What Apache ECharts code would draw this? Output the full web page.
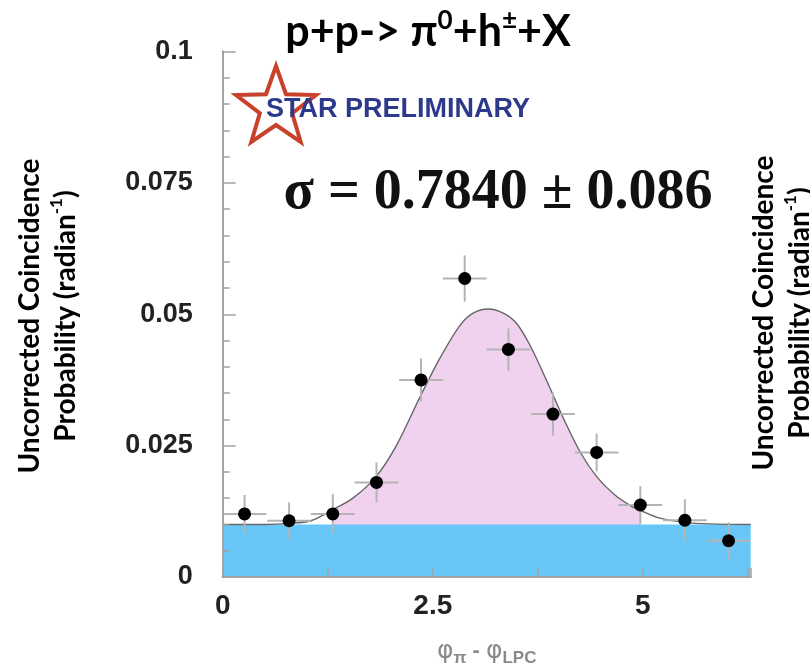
<!DOCTYPE html>
<html>
<head>
<meta charset="utf-8">
<script src="https://cdn.jsdelivr.net/npm/echarts@6/dist/echarts.min.js"></script>
<style>
  html, body { margin: 0; padding: 0; background: #fff; }
  #chart { width: 810px; height: 672px; }
</style>
</head>
<body>
<div id="chart"></div>
<script>
// Bin centres of the azimuthal difference (radian) and measured coincidence probability
const binCenters = [0.26, 0.79, 1.31, 1.83, 2.36, 2.88, 3.40, 3.93, 4.45, 4.97, 5.50, 6.02];
const probValues = [0.0120, 0.0107, 0.0120, 0.0180, 0.0375, 0.0568, 0.0433, 0.0310, 0.0237, 0.0137, 0.0108, 0.0069];
const probErrors = [0.0036, 0.0035, 0.0038, 0.0038, 0.0041, 0.0044, 0.0040, 0.0041, 0.0036, 0.0036, 0.0040, 0.0035];
const binHalfWidth = [0.26, 0.26, 0.26, 0.26, 0.26, 0.26, 0.26, 0.26, 0.26, 0.26, 0.26, 0.26];

// Gaussian-plus-constant fit curve, sampled along the axis
const fitX = [0, 0.5, 0.8, 1.05, 1.31, 1.55, 1.82, 2.06, 2.34, 2.58, 2.82, 2.98, 3.16, 3.34, 3.50, 3.66, 3.86, 4.06, 4.26, 4.46, 4.66, 4.86, 4.97, 5.2, 5.5, 5.8, 6.2832];
const fitY = [0.0100, 0.0100, 0.0102, 0.0107, 0.0128, 0.0150, 0.0190, 0.0248, 0.0340, 0.0415, 0.0478, 0.0502, 0.0510, 0.0502, 0.0482, 0.0440, 0.0372, 0.0300, 0.0236, 0.0189, 0.0157, 0.0135, 0.0127, 0.0112, 0.0104, 0.0101, 0.0100];

// Constant (uncorrelated) background level and the shaded signal window
const backgroundLevel = 0.01;
const signalWindow = [1.31, 4.97];

// Axis ranges and labelled ticks
const xRange = [0, 6.2832];
const yRange = [0, 0.1];
const xTickLabels = { 0: '0', 2.5: '2.5', 5: '5' };
const yTickLabels = { 0: '0', 0.025: '0.025', 0.05: '0.05', 0.075: '0.075', 0.1: '0.1' };

const fitPoints = fitX.map((x, i) => [x, fitY[i]]);
const signalPoints = fitPoints.filter(p => p[0] >= signalWindow[0] && p[0] <= signalWindow[1]);
const pointData = binCenters.map((x, i) => [x, probValues[i], binHalfWidth[i], probErrors[i]]);

const chart = echarts.init(document.getElementById('chart'), null, { renderer: 'canvas' });

const frameColor = '#a3a3a3';
const labelFont = 'Liberation Sans, Arial, sans-serif';
const officeFont = 'Lato, "Open Sans", sans-serif';

function fmtTick(map) {
  return function (v) {
    const key = Object.keys(map).find(k => Math.abs(parseFloat(k) - v) < 1e-9);
    return key !== undefined ? map[key] : '';
  };
}

// Five-pointed star outline for the collaboration logo
function starPoints(cx, cy, R, r) {
  const pts = [];
  for (let i = 0; i < 10; i++) {
    const ang = -Math.PI / 2 + i * Math.PI / 5;
    const rad = i % 2 === 0 ? R : r;
    pts.push([cx + rad * Math.cos(ang), cy + rad * Math.sin(ang)]);
  }
  return pts;
}

const yTitle = {
  text: '{a|Uncorrected Coincidence}\n{a|Probability (radian}{s|-1}{a|)}',
  textAlign: 'center', textVerticalAlign: 'middle',
  rich: {
    a: { fontSize: 28, fontWeight: 'bold', fontFamily: officeFont, fill: '#000', lineHeight: 36, verticalAlign: 'middle' },
    s: { fontSize: 17, fontWeight: 'bold', fontFamily: officeFont, fill: '#000', lineHeight: 36, verticalAlign: 'top' }
  }
};

const option = {
  backgroundColor: '#ffffff',
  animation: false,
  textStyle: { fontFamily: labelFont },
  grid: { left: 222.7, right: 59.3, top: 51.5, bottom: 95, show: false, outerBoundsMode: 'none', containLabel: false },
  xAxis: [{
    type: 'value',
    min: xRange[0], max: xRange[1], interval: 1.25,
    z: 10,
    axisLine: { show: true, lineStyle: { color: frameColor, width: 2 } },
    axisTick: { show: true, inside: true, length: 9, lineStyle: { color: frameColor, width: 1.5 } },
    splitLine: { show: false },
    axisLabel: {
      formatter: fmtTick(xTickLabels),
      color: '#222', fontSize: 28, fontWeight: 'bold', margin: 15, fontFamily: labelFont
    },
    name: '{phi|φ}{sub|π}{mid| - }{phi|φ}{sub|LPC}',
    nameLocation: 'middle',
    nameGap: 58,
    nameTextStyle: {
      rich: {
        phi: { fontSize: 25, color: '#8a8a8a', lineHeight: 32, verticalAlign: 'middle', fontFamily: 'DejaVu Sans' },
        mid: { fontSize: 22, color: '#8a8a8a', fontWeight: 'bold', lineHeight: 32, verticalAlign: 'middle' },
        sub: { fontSize: 17, color: '#8a8a8a', fontWeight: 'bold', lineHeight: 17, verticalAlign: 'bottom' }
      }
    }
  }, {
    type: 'value', position: 'top',
    min: xRange[0], max: xRange[1],
    z: 10,
    axisLine: { show: true, lineStyle: { color: frameColor, width: 2 } },
    axisTick: { show: false }, axisLabel: { show: false }, splitLine: { show: false }
  }],
  yAxis: [{
    type: 'value',
    min: yRange[0], max: yRange[1], interval: 0.025,
    z: 10,
    axisLine: { show: true, lineStyle: { color: frameColor, width: 2 } },
    axisTick: { show: true, inside: true, length: 13, lineStyle: { color: frameColor, width: 1.5 } },
    minorTick: { show: true, splitNumber: 5, length: 7, lineStyle: { color: frameColor, width: 1.5 } },
    splitLine: { show: false },
    minorSplitLine: { show: false },
    axisLabel: {
      formatter: fmtTick(yTickLabels),
      color: '#222', fontSize: 27, fontWeight: 'bold', margin: 30, fontFamily: labelFont
    }
  }, {
    type: 'value', position: 'right',
    min: yRange[0], max: yRange[1],
    z: 10,
    axisLine: { show: true, lineStyle: { color: frameColor, width: 2 } },
    axisTick: { show: false }, axisLabel: { show: false }, splitLine: { show: false }
  }],
  series: [
    {
      // shaded correlated (signal) region under the fit
      type: 'line',
      data: signalPoints,
      smooth: 0.3,
      showSymbol: false,
      z: 1,
      lineStyle: { width: 0 },
      areaStyle: { color: '#f0d2ef', opacity: 1, origin: 'start' },
      silent: true
    },
    {
      // flat background band
      type: 'line',
      data: [[xRange[0], backgroundLevel], [xRange[1], backgroundLevel]],
      showSymbol: false,
      z: 2,
      lineStyle: { width: 0 },
      areaStyle: { color: '#69c7f8', opacity: 1, origin: 'start' },
      silent: true
    },
    {
      // fit curve
      type: 'line',
      data: fitPoints,
      smooth: 0.3,
      showSymbol: false,
      z: 3,
      lineStyle: { color: '#666', width: 1.4 },
      silent: true
    },
    {
      // horizontal bin-width and vertical statistical error bars
      type: 'custom',
      data: pointData,
      z: 4,
      renderItem: function (params, api) {
        const x = api.value(0), y = api.value(1), ex = api.value(2), ey = api.value(3);
        const l = api.coord([x - ex, y]);
        const r = api.coord([x + ex, y]);
        const t = api.coord([x, y + ey]);
        const b = api.coord([x, y - ey]);
        const st = { stroke: '#b4b4b4', lineWidth: 2 };
        return {
          type: 'group',
          children: [
            { type: 'line', shape: { x1: l[0], y1: l[1], x2: r[0], y2: r[1] }, style: st },
            { type: 'line', shape: { x1: t[0], y1: t[1], x2: b[0], y2: b[1] }, style: st }
          ]
        };
      }
    },
    {
      type: 'scatter',
      data: binCenters.map((x, i) => [x, probValues[i]]),
      symbol: 'circle',
      symbolSize: 13,
      z: 5,
      itemStyle: { color: '#000', opacity: 1 }
    }
  ],
  graphic: [
    {
      type: 'text',
      x: 428, y: 31,
      style: {
        text: '{m|p+p-> π}{s|0}{m|+h}{s|±}{m|+X}',
        textAlign: 'center', textVerticalAlign: 'middle',
        rich: {
          m: { fontSize: 43, fontWeight: 'bold', fontFamily: officeFont, fill: '#000', lineHeight: 46, verticalAlign: 'bottom' },
          s: { fontSize: 26, fontWeight: 'bold', fontFamily: officeFont, fill: '#000', lineHeight: 46, verticalAlign: 'top' }
        }
      },
      z: 21
    },
    {
      type: 'polygon',
      shape: { points: starPoints(276, 108, 42, 17) },
      style: { fill: '#fff', stroke: '#c9412b', lineWidth: 4, lineJoin: 'miter' },
      z: 20
    },
    {
      type: 'text',
      x: 266, y: 110,
      style: {
        text: 'STAR PRELIMINARY',
        fontSize: 27, fontWeight: 'bold', fontFamily: labelFont,
        fill: '#2d3a8c', textAlign: 'left', textVerticalAlign: 'middle'
      },
      z: 21
    },
    {
      type: 'text',
      x: 498, y: 194,
      style: {
        text: 'σ = 0.7840 ± 0.086',
        fontSize: 56, fontWeight: 'bold', fontFamily: 'Liberation Serif, "DejaVu Serif", serif',
        fill: '#111', textAlign: 'center', textVerticalAlign: 'middle'
      },
      z: 21
    },
    { type: 'text', x: 48, y: 316, rotation: Math.PI / 2, style: yTitle, z: 21 },
    { type: 'text', x: 782, y: 313, rotation: Math.PI / 2, style: yTitle, z: 21 }
  ]
};

chart.setOption(option);
</script>
</body>
</html>
